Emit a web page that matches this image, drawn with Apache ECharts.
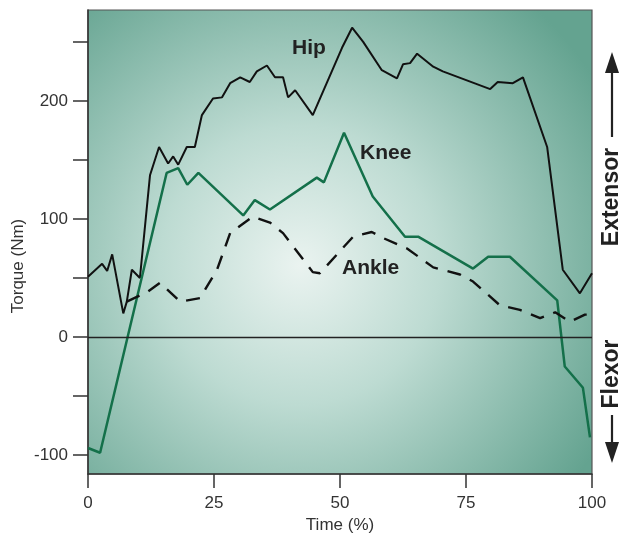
<!DOCTYPE html>
<html><head><meta charset="utf-8">
<script src="https://cdn.jsdelivr.net/npm/echarts@6/dist/echarts.min.js"></script>
<style>html,body{margin:0;padding:0;background:#fff}#c{width:623px;height:539px}</style>
</head><body><div id="c"></div>
<script>
var xTicks = [0, 25, 50, 75, 100];
var yTickValues = [-100, -50, 0, 50, 100, 150, 200, 250];
var yLabelValues = [-100, 0, 100, 200];

var hipX = [0, 2.8, 3.8, 4.8, 7.0, 7.7, 8.7, 10.3, 12.3, 14.1, 15.9, 16.9, 17.9, 19.6, 21.2, 22.6, 24.8, 26.6, 28.2, 30.2, 32.1, 33.5, 35.5, 37.1, 38.7, 39.7, 41.1, 44.6, 50.4, 52.4, 54.6, 58.3, 61.3, 62.5, 63.9, 65.3, 68.5, 70.4, 79.8, 81.3, 84.3, 86.3, 91.1, 94.2, 97.6, 100];
var hipY = [51, 62, 56, 70, 20, 30, 57, 50, 137, 161, 147, 153, 146, 161, 161, 188, 202, 203, 215, 220, 216, 225, 230, 220, 220, 203, 209, 188, 245, 262, 250, 226, 219, 231, 232, 240, 229, 225, 210, 216, 215, 220, 161, 57, 37, 54];

var kneeX = [0, 2.4, 15.6, 17.9, 19.7, 21.9, 30.8, 33.1, 36.1, 45.4, 46.8, 50.8, 56.5, 62.9, 65.5, 76.4, 79.4, 83.7, 93.1, 94.6, 98.2, 99.6];
var kneeY = [-94, -98, 139, 143, 129, 139, 103, 116, 108, 135, 131, 173, 119, 85, 85, 58, 68, 68, 31, -25, -43, -85];

var ankleX = [7.7, 11.7, 14.3, 18.3, 22.2, 25.6, 28.2, 32.7, 36.1, 38.7, 44.6, 46.0, 52.6, 56.3, 58.5, 63.3, 68.5, 73.8, 76.4, 81.7, 85.7, 89.7, 92.7, 95.6, 98.6, 100];
var ankleY = [30, 38, 46, 30, 33, 57, 88, 102, 97, 88, 55, 54, 85, 89, 84, 75, 59, 53, 47, 27, 23, 16, 21, 13, 19, 19];

function zip(xs, ys) { return xs.map(function (x, i) { return [x, ys[i]]; }); }

var chart = echarts.init(document.getElementById('c'));
var bg = new echarts.graphic.RadialGradient(0.42, 0.55, 0.75, [
  { offset: 0, color: '#eaf3f0' },
  { offset: 0.4, color: '#bddbd2' },
  { offset: 1, color: '#64a390' }
]);
var font = 'Liberation Sans, Arial, Helvetica, sans-serif';
chart.setOption({
  animation: false,
  grid: { left: 88, right: 31, top: 10, bottom: 65, show: true, backgroundColor: bg, borderColor: '#555', borderWidth: 1.2 },
  xAxis: {
    type: 'value', min: 0, max: 100, interval: 25,
    name: 'Time (%)', nameLocation: 'middle', nameGap: 42,
    nameTextStyle: { fontFamily: font, fontSize: 17, color: '#333' },
    axisLine: { show: true, onZero: false, lineStyle: { color: '#333', width: 1.5 } },
    axisTick: { show: true, length: 14, inside: false, lineStyle: { color: '#333', width: 1.5 } },
    axisLabel: { fontFamily: font, fontSize: 17, color: '#333', margin: 21 },
    splitLine: { show: false }
  },
  yAxis: {
    type: 'value', min: -116, max: 277,
    axisLine: { show: true, lineStyle: { color: '#333', width: 1.5 } },
    axisTick: { show: true, length: 15, customValues: yTickValues, lineStyle: { color: '#333', width: 1.5 } },
    axisLabel: { fontFamily: font, fontSize: 17, color: '#333', margin: 20, customValues: yLabelValues },
    splitLine: { show: false }
  },
  series: [
    { name: 'Hip', type: 'line', data: zip(hipX, hipY), symbol: 'none', lineStyle: { color: '#111', width: 2 },
      markLine: { silent: true, symbol: 'none', label: { show: false }, lineStyle: { color: '#222', width: 1.3, type: 'solid' }, data: [{ yAxis: 0 }] } },
    { name: 'Knee', type: 'line', data: zip(kneeX, kneeY), symbol: 'none', lineStyle: { color: '#14704a', width: 2.5 } },
    { name: 'Ankle', type: 'line', data: zip(ankleX, ankleY), symbol: 'none', lineStyle: { color: '#111', width: 2.4, type: [14, 10] } }
  ],
  graphic: [
    { type: 'text', left: 292, top: 38, style: { text: 'Hip', font: 'bold 21px ' + font, fill: '#222' } },
    { type: 'text', left: 360, top: 143, style: { text: 'Knee', font: 'bold 21px ' + font, fill: '#222' } },
    { type: 'text', left: 342, top: 258, style: { text: 'Ankle', font: 'bold 21px ' + font, fill: '#222' } },
    { type: 'text', x: 18, y: 266, rotation: Math.PI / 2, style: { text: 'Torque (Nm)', font: '17px ' + font, fill: '#333', align: 'center', verticalAlign: 'middle' } },
    { type: 'text', x: 612, y: 197, rotation: Math.PI / 2, style: { text: 'Extensor', font: 'bold 23px ' + font, fill: '#222', align: 'center', verticalAlign: 'middle' } },
    { type: 'text', x: 612, y: 374, rotation: Math.PI / 2, style: { text: 'Flexor', font: 'bold 23px ' + font, fill: '#222', align: 'center', verticalAlign: 'middle' } },
    { type: 'line', shape: { x1: 612, y1: 70, x2: 612, y2: 137 }, style: { stroke: '#222', lineWidth: 2.2 } },
    { type: 'polygon', shape: { points: [[612, 52], [605, 73], [619, 73]] }, style: { fill: '#222' } },
    { type: 'line', shape: { x1: 612, y1: 415, x2: 612, y2: 445 }, style: { stroke: '#222', lineWidth: 2.2 } },
    { type: 'polygon', shape: { points: [[612, 463], [605, 442], [619, 442]] }, style: { fill: '#222' } }
  ]
});
</script></body></html>
